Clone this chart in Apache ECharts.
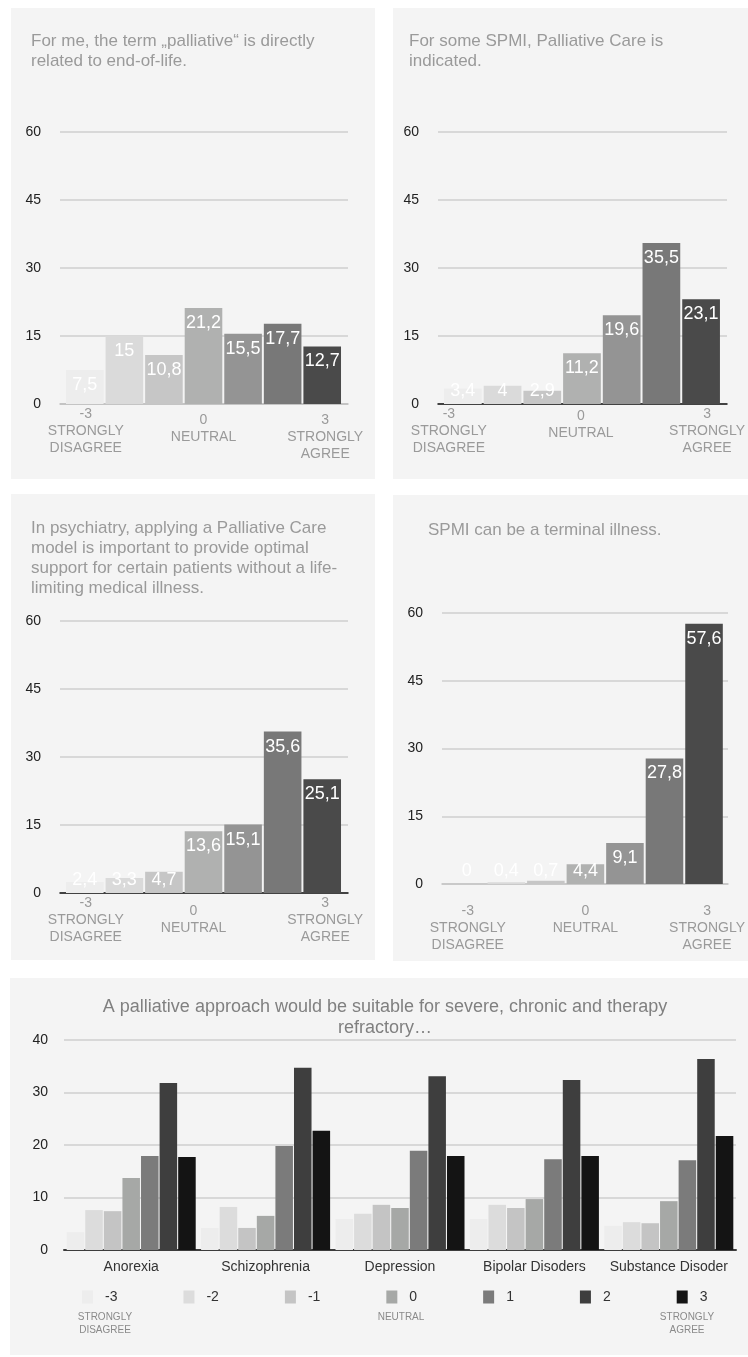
<!DOCTYPE html>
<html><head><meta charset="utf-8">
<script src="https://cdn.jsdelivr.net/npm/echarts@6/dist/echarts.min.js"></script>
<style>
html,body{margin:0;padding:0;background:#fff;}
#wrap{position:relative;width:748px;height:1357px;}
.panel{position:absolute;background:#f4f4f4;}
#chart{position:absolute;left:0;top:0;width:748px;height:1357px;}
</style></head><body>
<div id="wrap">
<div class="panel" style="left:11px;top:8px;width:364px;height:471px"></div>
<div class="panel" style="left:393px;top:8px;width:355px;height:471px"></div>
<div class="panel" style="left:11px;top:494px;width:364px;height:466px"></div>
<div class="panel" style="left:393px;top:495px;width:355px;height:466px"></div>
<div class="panel" style="left:10px;top:978px;width:738px;height:377px"></div>
<div id="chart"></div>
</div>
<script>
// ---------- data ----------
const likertCategories = ['-3', '-2', '-1', '0', '1', '2', '3'];
const likertEndLabels = {
  '-3': ['-3', 'STRONGLY', 'DISAGREE'],
  '0': ['0', 'NEUTRAL'],
  '3': ['3', 'STRONGLY', 'AGREE']
};
const topAxisMax = 60;
const topAxisInterval = 15;

const q1Title = 'For me, the term „palliative“ is directly\nrelated to end-of-life.';
const q1Values = [7.5, 15, 10.8, 21.2, 15.5, 17.7, 12.7];

const q2Title = 'For some SPMI, Palliative Care is\nindicated.';
const q2Values = [3.4, 4, 2.9, 11.2, 19.6, 35.5, 23.1];

const q3Title = 'In psychiatry, applying a Palliative Care\nmodel is important to provide optimal\nsupport for certain patients without a life-\nlimiting medical illness.';
const q3Values = [2.4, 3.3, 4.7, 13.6, 15.1, 35.6, 25.1];

const q4Title = 'SPMI can be a terminal illness.';
const q4Values = [0, 0.4, 0.7, 4.4, 9.1, 27.8, 57.6];

const q5Title = 'A palliative approach would be suitable for severe, chronic and therapy\nrefractory…';
const disorders = ['Anorexia', 'Schizophrenia', 'Depression', 'Bipolar Disoders', 'Substance Disoder'];
const q5Minus3 = [3.4, 4.2, 5.9, 5.9, 4.6];
const q5Minus2 = [7.6, 8.2, 6.9, 8.6, 5.3];
const q5Minus1 = [7.4, 4.2, 8.6, 8.0, 5.1];
const q5Zero   = [13.7, 6.5, 8.0, 9.7, 9.3];
const q5Plus1  = [17.9, 19.8, 18.9, 17.3, 17.1];
const q5Plus2  = [31.8, 34.7, 33.1, 32.4, 36.4];
const q5Plus3  = [17.7, 22.7, 17.9, 17.9, 21.7];
const bottomAxisMax = 40;
const bottomAxisInterval = 10;
const legendNotes = [['STRONGLY', 'DISAGREE'], ['NEUTRAL'], ['STRONGLY', 'AGREE']];

// ---------- styling / layout ----------
const FONT = '"Liberation Sans", Arial, Helvetica, sans-serif';
const topColors = ['#ededed', '#dadada', '#c6c6c6', '#b0b1b0', '#949494', '#787878', '#4a4a4a'];
const bottomColors = ['#ededed', '#dcdcdc', '#c4c4c4', '#a6a8a6', '#7b7b7b', '#3e3e3e', '#141414'];

const panels = [
  {title: q1Title, values: q1Values, titleLeft: 31, titleTop: 31, lineLeft: 60, lineWidth: 288, barLeft: 65, barWidth: 277, top: 132, height: 272, axisColor: '#bdbdbd', labelMargin: 2, adj: [[1, 0], [0, 6], [3, 6]]},
  {title: q2Title, values: q2Values, titleLeft: 409, titleTop: 31, lineLeft: 438, lineWidth: 289, barLeft: 443, barWidth: 279, top: 132, height: 272, axisColor: '#111111', labelMargin: 2, adj: [[-14, 0], [-1, 2], [6, 0]]},
  {title: q3Title, values: q3Values, titleLeft: 31, titleTop: 518, lineLeft: 60, lineWidth: 288, barLeft: 65, barWidth: 277, top: 621, height: 272, axisColor: '#111111', labelMargin: 2, adj: [[1, 0], [-10, 8], [3, 0]]},
  {title: q4Title, values: q4Values, titleLeft: 428, titleTop: 520, lineLeft: 442, lineWidth: 286, barLeft: 447, barWidth: 277, top: 613, height: 271, axisColor: '#c4c4c4', labelMargin: 19, adj: [[1, 0], [0, 0], [3, 0]]}
];

const fmt = v => String(v).replace('.', ',');

const option = {
  animation: false,
  textStyle: {fontFamily: FONT},
  title: [], grid: [], xAxis: [], yAxis: [], series: [], graphic: []
};

panels.forEach((p, k) => {
  const gLines = option.grid.length;
  option.grid.push({left: p.lineLeft, width: p.lineWidth, top: p.top, height: p.height, containLabel: false});
  const gBars = option.grid.length;
  option.grid.push({left: p.barLeft, width: p.barWidth, top: p.top, height: p.height, containLabel: false});

  option.title.push({
    text: p.title, left: p.titleLeft, top: p.titleTop, padding: 0,
    textStyle: {fontFamily: FONT, fontSize: 17, fontWeight: 'normal', color: '#9a9a9a', lineHeight: 20}
  });

  option.xAxis.push({
    type: 'category', gridIndex: gLines, data: likertCategories,
    axisLine: {show: true, lineStyle: {color: p.axisColor, width: 1.5}},
    axisTick: {show: false}, axisLabel: {show: false}, splitLine: {show: false}
  });
  option.yAxis.push({
    type: 'value', gridIndex: gLines, min: 0, max: topAxisMax, interval: topAxisInterval,
    axisLine: {show: false}, axisTick: {show: false},
    axisLabel: {color: '#222', fontSize: 14, margin: 19, fontFamily: FONT},
    splitLine: {lineStyle: {color: '#cfcfcf', width: 1.5}}
  });

  const rich = {};
  const labelKeys = {'-3': 0, '0': 1, '3': 2};
  Object.keys(labelKeys).forEach(key => {
    const [dx, dy] = p.adj[labelKeys[key]];
    rich['s' + labelKeys[key]] = {
      fontSize: 14, color: '#9a9a9a', lineHeight: 17, fontFamily: FONT,
      padding: [dy * 2, dx < 0 ? -dx * 2 : 0, 0, dx > 0 ? dx * 2 : 0]
    };
  });
  const xBars = option.xAxis.length;
  option.xAxis.push({
    type: 'category', gridIndex: gBars, data: likertCategories,
    axisLine: {show: false}, axisTick: {show: false}, splitLine: {show: false},
    axisLabel: {
      interval: 0, margin: p.labelMargin, verticalAlign: 'top',
      formatter: (v) => {
        const lines = likertEndLabels[v];
        if (!lines) return '';
        const s = 's' + labelKeys[v];
        return lines.map(t => '{' + s + '|' + t + '}').join('\n');
      },
      rich: rich
    }
  });
  const yBars = option.yAxis.length;
  option.yAxis.push({
    type: 'value', gridIndex: gBars, min: 0, max: topAxisMax, interval: topAxisInterval,
    show: false, splitLine: {show: false}
  });

  option.series.push({
    type: 'bar', xAxisIndex: xBars, yAxisIndex: yBars, barCategoryGap: '5%',
    data: p.values.map(v => ({
      value: v,
      label: {position: v < 6 ? 'insideBottom' : 'insideTop', distance: v < 6 ? 4 : 6}
    })),
    itemStyle: {color: (d) => topColors[d.dataIndex]},
    label: {show: true, color: '#ffffff', fontSize: 18, fontFamily: FONT, formatter: (d) => fmt(d.value)}
  });
});

// bottom chart
const gB = option.grid.length;
option.grid.push({left: 64, right: 12, top: 1040, height: 210, containLabel: false});
option.title.push({
  text: q5Title, left: 385, top: 997, textAlign: 'center', padding: 0,
  textStyle: {fontFamily: FONT, fontSize: 18, fontWeight: 'normal', color: '#808080', lineHeight: 21}
});
const xB = option.xAxis.length;
option.xAxis.push({
  type: 'category', gridIndex: gB, data: disorders,
  axisLine: {show: true, lineStyle: {color: '#3c3c3c', width: 2}},
  axisTick: {show: false},
  axisLabel: {interval: 0, color: '#333', fontSize: 14, margin: 10, fontFamily: FONT}
});
const yB = option.yAxis.length;
option.yAxis.push({
  type: 'value', gridIndex: gB, min: 0, max: bottomAxisMax, interval: bottomAxisInterval,
  axisLine: {show: false}, axisTick: {show: false},
  axisLabel: {color: '#222', fontSize: 14, margin: 16, fontFamily: FONT},
  splitLine: {lineStyle: {color: '#cfcfcf', width: 1.5}}
});
const bottomSeries = [q5Minus3, q5Minus2, q5Minus1, q5Zero, q5Plus1, q5Plus2, q5Plus3];
bottomSeries.forEach((vals, i) => {
  option.series.push({
    name: likertCategories[i], type: 'bar', xAxisIndex: xB, yAxisIndex: yB,
    barCategoryGap: '4%', barGap: '6%',
    itemStyle: {color: bottomColors[i]},
    data: vals
  });
});
option.legend = {
  left: 82, top: 1290, padding: 0, itemWidth: 11, itemHeight: 13, itemGap: 66, icon: 'rect',
  data: likertCategories,
  textStyle: {color: '#333', fontSize: 14, fontFamily: FONT, padding: [0, 0, 0, 7]},
  selectedMode: false
};
const noteX = [105, 401, 687];
legendNotes.forEach((lines, i) => {
  option.graphic.push({
    type: 'text', x: noteX[i], y: 1310,
    style: {text: lines.join('\n'), fill: '#8a8a8a', fontSize: 10, lineHeight: 13.5, fontFamily: FONT, align: 'center', verticalAlign: 'top'}
  });
});

const chart = echarts.init(document.getElementById('chart'), null, {renderer: 'canvas'});
chart.setOption(option);
</script>
</body></html>
